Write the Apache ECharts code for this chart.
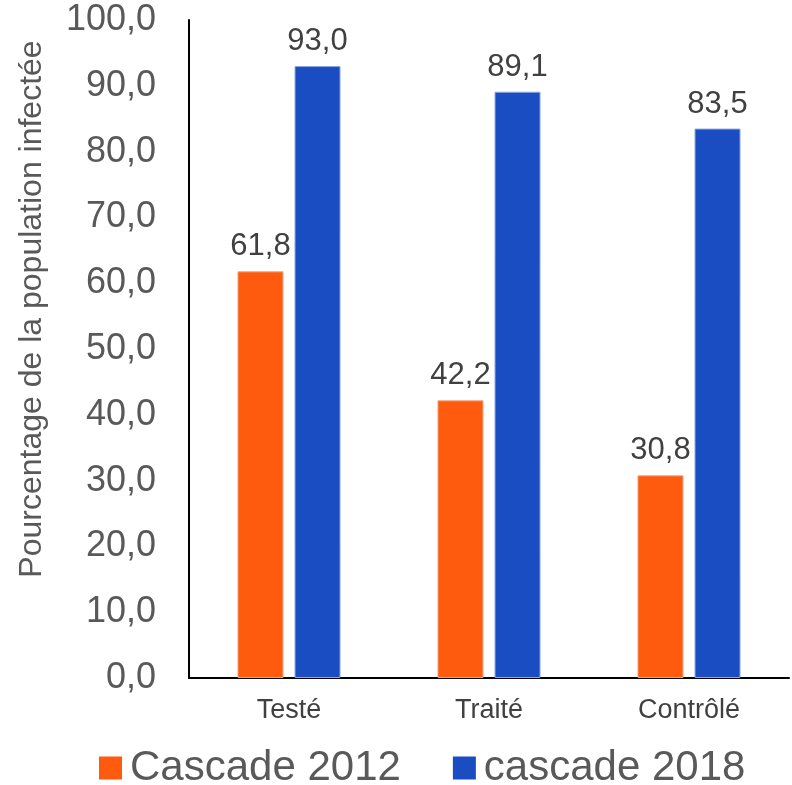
<!DOCTYPE html>
<html>
<head>
<meta charset="utf-8">
<script src="https://cdn.jsdelivr.net/npm/echarts@6/dist/echarts.min.js"></script>
<style>html,body{margin:0;padding:0;background:#fff}#c{width:792px;height:785px}</style>
</head>
<body>
<div id="c"></div>
<script>
const categories = ['Testé', 'Traité', 'Contrôlé'];
const cascade2012 = [61.8, 42.2, 30.8];
const cascade2018 = [93.0, 89.1, 83.5];
const seriesNames = ['Cascade 2012', 'cascade 2018'];
const yTicks = {min: 0, max: 100, interval: 10};
const yTitle = 'Pourcentage de la population infectée';

const fmt = v => v.toFixed(1).replace('.', ',');
const font = 'Arial, "Liberation Sans", sans-serif';

const chart = echarts.init(document.getElementById('c'), null, {renderer: 'canvas'});
const labelStyle = {
  show: true, position: 'top', distance: 9,
  color: '#404040', fontSize: 31, fontFamily: font,
  formatter: p => fmt(p.value)
};
chart.setOption({
  animation: false,
  grid: {left: 189, right: 3, top: 20, bottom: 107, containLabel: false},
  graphic: [{
    type: 'text', x: 32, y: 309, rotation: Math.PI / 2,
    style: {text: yTitle, fill: '#595959', fontSize: 32, fontFamily: font,
            align: 'center', verticalAlign: 'middle'}
  }],
  legend: {
    bottom: -9, left: 94,
    itemWidth: 23, itemHeight: 23, itemGap: 52,
    icon: 'rect',
    itemStyle: {borderWidth: 0},
    textStyle: {fontSize: 42, color: '#595959', fontFamily: font, padding: [0, 0, 0, 3]},
    data: seriesNames
  },
  xAxis: {
    type: 'category', data: categories,
    axisLine: {lineStyle: {color: '#000', width: 2}},
    axisTick: {show: false},
    axisLabel: {color: '#404040', fontSize: 27, fontFamily: font, margin: 19}
  },
  yAxis: {
    type: 'value', min: yTicks.min, max: yTicks.max, interval: yTicks.interval,
    axisLine: {show: true, lineStyle: {color: '#000', width: 2}},
    axisTick: {show: false},
    splitLine: {show: false},
    axisLabel: {color: '#595959', fontSize: 36, fontFamily: font, margin: 33, formatter: v => fmt(v)}
  },
  series: [
    {
      name: seriesNames[0], type: 'bar', data: cascade2012,
      barWidth: 46, barGap: '24%',
      itemStyle: {color: '#FF5B0F', borderColor: '#F4A27C', borderWidth: 1},
      label: labelStyle
    },
    {
      name: seriesNames[1], type: 'bar', data: cascade2018,
      barWidth: 46, barGap: '24%',
      itemStyle: {color: '#1A4CC2', borderColor: '#8EA6E0', borderWidth: 1},
      label: labelStyle
    }
  ]
});
</script>
</body>
</html>
